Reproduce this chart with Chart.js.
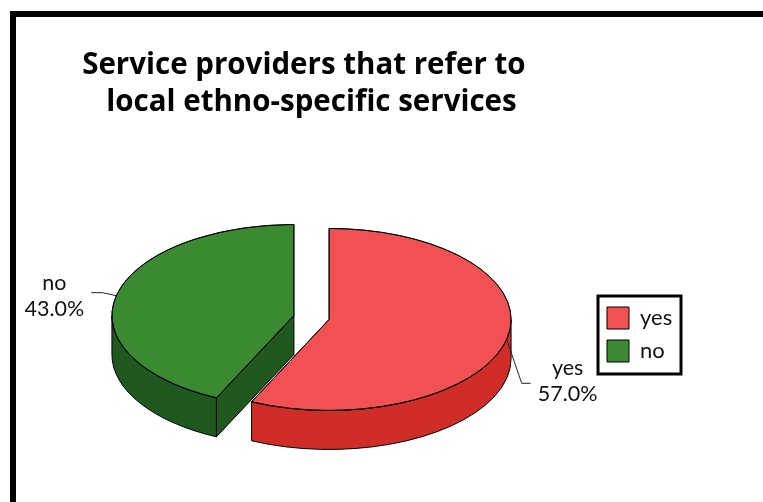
<!DOCTYPE html>
<html>
<head>
<meta charset="utf-8">
<title>Service providers</title>
<script src="https://cdn.jsdelivr.net/npm/chart.js@4/dist/chart.umd.min.js"></script>
<style>
	html, body { margin: 0; padding: 0; background: #fff; overflow: hidden; }
	#wrap { position: relative; width: 763px; height: 502px; overflow: hidden; }
	#frame { position: absolute; left: 10px; top: 11px; width: 800px; height: 600px; border-left: 6px solid #000; border-top: 6px solid #000; }
	#myChart { position: absolute; left: 0; top: 0; }
</style>
</head>
<body>
<div id="wrap">
	<div id="frame"></div>
	<canvas id="myChart" width="763" height="502"></canvas>
</div>
<script>
const categories = ['yes', 'no'];
const shares = [57.0, 43.0];
const topColors = ['#f15152', '#3a8a32'];
const wallColors = ['#d02d28', '#20591f'];
const titleLines = ['Service providers that refer to  ', 'local ethno-specific services'];

const tilt = 0.5;
const depth = 39;
const explode = 18;
const labelFont = '21.5px Lato';
const legendFrame = { x: 598, y: 296, w: 83, h: 78 };

// leader line and text placement, relative to the point on the slice rim
const callouts = [
	{ elbowX: 15, elbowY: 44, endX: 24, textX: 61, textY: 29 },
	{ elbowX: -14, elbowY: -3, endX: -25, textX: -62, textY: -13 }
];

function sliceShift(arc) {
	let mid = (arc.startAngle + arc.endAngle) / 2;
	return { x: Math.cos(mid) * explode, y: Math.sin(mid) * explode * tilt };
}

function drawCutFace(ctx, arc, angle, r) {
	let px = arc.x + Math.cos(angle) * r;
	let py = arc.y + Math.sin(angle) * r * tilt;
	ctx.beginPath();
	ctx.moveTo(arc.x, arc.y);
	ctx.lineTo(px, py);
	ctx.lineTo(px, py + depth);
	ctx.lineTo(arc.x, arc.y + depth);
	ctx.closePath();
	ctx.fill();
	ctx.stroke();
}

function drawSlice(ctx, arc, index) {
	let r = arc.outerRadius;
	let shift = sliceShift(arc);
	ctx.save();
	ctx.translate(shift.x, shift.y);
	ctx.fillStyle = wallColors[index];
	ctx.strokeStyle = '#000';
	ctx.lineWidth = 1;

	// only the near side of the rim shows
	let from = Math.max(arc.startAngle, 0);
	let to = Math.min(arc.endAngle, Math.PI);
	if (to > from) {
		ctx.beginPath();
		ctx.ellipse(arc.x, arc.y, r, r * tilt, 0, from, to);
		ctx.ellipse(arc.x, arc.y + depth, r, r * tilt, 0, to, from, true);
		ctx.closePath();
		ctx.fill();
		ctx.stroke();
	}
	if (-Math.cos(arc.startAngle) > 0.001) drawCutFace(ctx, arc, arc.startAngle, r);
	if (Math.cos(arc.endAngle) > 0.001) drawCutFace(ctx, arc, arc.endAngle, r);

	// top face comes from the arc element itself, squashed
	ctx.save();
	ctx.translate(arc.x, arc.y);
	ctx.scale(1, tilt);
	ctx.translate(-arc.x, -arc.y);
	arc.draw(ctx);
	ctx.restore();

	ctx.beginPath();
	ctx.moveTo(arc.x, arc.y);
	ctx.ellipse(arc.x, arc.y, r, r * tilt, 0, arc.startAngle, arc.endAngle);
	ctx.closePath();
	ctx.stroke();
	ctx.restore();
}

function drawCallout(ctx, arc, index) {
	let c = callouts[index];
	let shift = sliceShift(arc);
	let mid = (arc.startAngle + arc.endAngle) / 2;
	let ax = arc.x + shift.x + Math.cos(mid) * arc.outerRadius;
	let ay = arc.y + shift.y + Math.sin(mid) * arc.outerRadius * tilt;
	ctx.save();
	ctx.strokeStyle = '#222';
	ctx.lineWidth = 1;
	ctx.beginPath();
	ctx.moveTo(ax, ay);
	ctx.lineTo(ax + c.elbowX, ay + c.elbowY);
	ctx.lineTo(ax + c.endX, ay + c.elbowY);
	ctx.stroke();
	ctx.fillStyle = '#111';
	ctx.font = labelFont;
	ctx.textAlign = 'center';
	ctx.textBaseline = 'middle';
	ctx.fillText(categories[index], ax + c.textX, ay + c.textY);
	ctx.fillText(shares[index].toFixed(1) + '%', ax + c.textX, ay + c.textY + 26);
	ctx.restore();
}

const pie3d = {
	id: 'pie3d',
	afterLayout(chart) {
		// the legend sits beside the pie, outside the layout boxes
		let legend = chart.legend;
		legend.left = 596;
		legend.top = 296;
		legend.right = 763;
		legend.bottom = 502;
	},
	beforeDatasetDraw(chart, args) {
		let arcs = args.meta.data;
		for (let i = arcs.length - 1; i >= 0; i--) drawSlice(chart.ctx, arcs[i], i);
		return false;
	},
	afterDatasetsDraw(chart) {
		let arcs = chart.getDatasetMeta(0).data;
		arcs.forEach((arc, i) => drawCallout(chart.ctx, arc, i));
	},
	beforeDraw(chart) {
		chart.ctx.save();
		chart.ctx.strokeStyle = '#000';
		chart.ctx.lineWidth = 3;
		chart.ctx.strokeRect(legendFrame.x, legendFrame.y, legendFrame.w, legendFrame.h);
		chart.ctx.restore();
	}
};

let ctx = document.getElementById('myChart').getContext('2d');
let myChart = new Chart(ctx, {
	type: 'pie',
	data: {
		labels: categories,
		datasets: [{
			data: shares,
			backgroundColor: topColors,
			borderColor: '#000',
			borderWidth: 1
		}]
	},
	options: {
		responsive: false,
		animation: false,
		radius: 182,
		layout: { padding: { left: 0, right: 140, top: 0, bottom: 0 } },
		plugins: {
			title: {
				display: true,
				text: titleLines,
				color: '#000',
				font: { family: 'Open Sans', size: 29.5, weight: 'bold', lineHeight: 1.254 },
				padding: { top: 47, bottom: 12 }
			},
			legend: {
				position: 'chartArea',
				align: 'start',
				labels: {
					boxWidth: 22,
					boxHeight: 22,
					padding: 11,
					color: '#111',
					font: { family: 'Lato', size: 22 }
				}
			},
			tooltip: { enabled: false }
		}
	},
	plugins: [pie3d]
});
</script>
</body>
</html>
